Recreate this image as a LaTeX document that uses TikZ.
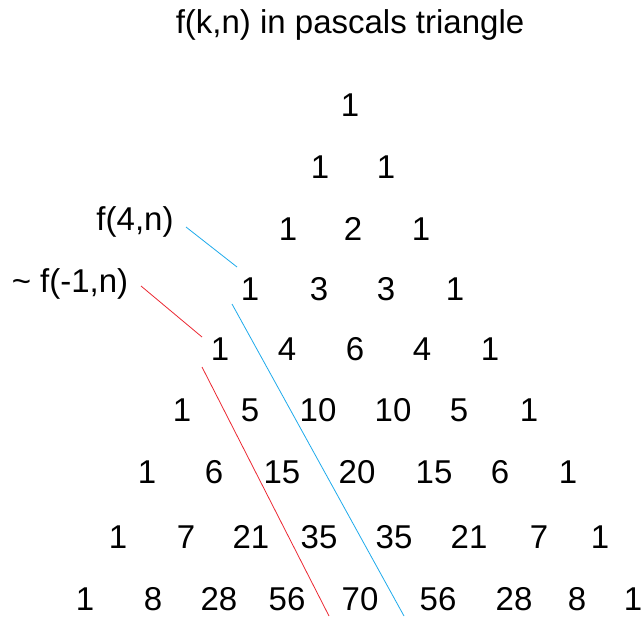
\documentclass[tikz,border=0pt]{standalone}
\usepackage{fontspec}
\setmainfont{Liberation Sans}
\definecolor{lineblue}{RGB}{30,170,235}
\definecolor{linered}{RGB}{235,40,50}
\begin{document}
\begin{tikzpicture}[x=1pt,y=-1pt,
  num/.style={inner sep=0pt,anchor=base,font=\fontsize{33}{40}\selectfont},
  lab/.style={inner sep=0pt,anchor=base,font=\fontsize{33}{40}\selectfont},
  bline/.style={draw=lineblue,line width=0.8pt},
  rline/.style={draw=linered,line width=0.8pt}]
\useasboundingbox (0,0) rectangle (644,616);
\node[lab] (title) at (350,33) {f(k,n) in pascals triangle};
% rows: baseline = center + 12
\node[num] (r0a) at (350,116) {1};
\node[num] (r1a) at (320,178) {1};
\node[num] (r1b) at (386,178) {1};
\node[num] (r2a) at (288,240) {1};
\node[num] (r2b) at (353,240) {2};
\node[num] (r2c) at (421,240) {1};
\node[num] (r3a) at (250,300) {1};
\node[num] (r3b) at (319,300) {3};
\node[num] (r3c) at (386,300) {3};
\node[num] (r3d) at (455,300) {1};
\node[num] (r4a) at (220,360) {1};
\node[num] (r4b) at (287,360) {4};
\node[num] (r4c) at (355,360) {6};
\node[num] (r4d) at (422,360) {4};
\node[num] (r4e) at (490,360) {1};
\node[num] (r5a) at (182,421) {1};
\node[num] (r5b) at (250,421) {5};
\node[num] (r5c) at (318,421) {10};
\node[num] (r5d) at (393,421) {10};
\node[num] (r5e) at (459,421) {5};
\node[num] (r5f) at (529,421) {1};
\node[num] (r6a) at (147,483) {1};
\node[num] (r6b) at (214,483) {6};
\node[num] (r6c) at (282,483) {15};
\node[num] (r6d) at (357,483) {20};
\node[num] (r6e) at (434,483) {15};
\node[num] (r6f) at (500,483) {6};
\node[num] (r6g) at (568,483) {1};
\node[num] (r7a) at (118,548) {1};
\node[num] (r7b) at (186,548) {7};
\node[num] (r7c) at (251,548) {21};
\node[num] (r7d) at (319,548) {35};
\node[num] (r7e) at (394,548) {35};
\node[num] (r7f) at (469,548) {21};
\node[num] (r7g) at (539,548) {7};
\node[num] (r7h) at (600,548) {1};
\node[num] (r8a) at (85,610) {1};
\node[num] (r8b) at (153,610) {8};
\node[num] (r8c) at (219,610) {28};
\node[num] (r8d) at (287,610) {56};
\node[num] (r8e) at (360,610) {70};
\node[num] (r8f) at (438,610) {56};
\node[num] (r8g) at (514,610) {28};
\node[num] (r8h) at (577,610) {8};
\node[num] (r8i) at (633,610) {1};
% labels
\node[lab] (lfour) at (135,230) {f(4,n)};
\node[lab] (lminus) at (70,292) {\char"007E\ f(-1,n)};
% line end points
\coordinate (b1) at (186,227);
\coordinate (b2) at (237,267);
\coordinate (b3) at (232,304);
\coordinate (b4) at (404,616);
\coordinate (c1) at (141,286);
\coordinate (c2) at (202,337);
\coordinate (c3) at (202,367);
\coordinate (c4) at (329,616);
\draw[bline] (b1) -- (b2);
\draw[bline] (b3) -- (b4);
\draw[rline] (c1) -- (c2);
\draw[rline] (c3) -- (c4);
\end{tikzpicture}
\end{document}
